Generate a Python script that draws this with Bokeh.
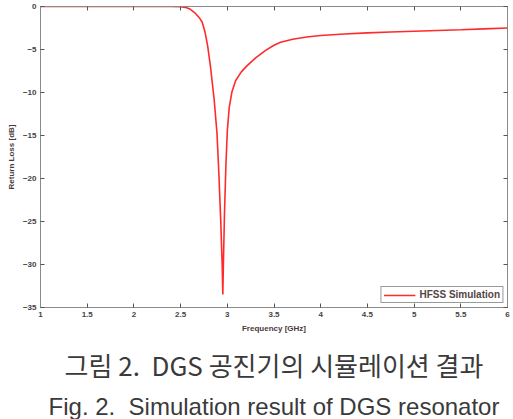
from bokeh.plotting import figure
from bokeh.models import LinearAxis, Range1d, FixedTicker, Legend, Title
from bokeh.embed import file_html
from bokeh.resources import INLINE

freq = [1.0, 1.5, 2.0, 2.4, 2.5, 2.55, 2.6, 2.65, 2.7, 2.73, 2.76, 2.79, 2.82, 2.86, 2.89,
        2.91, 2.93, 2.945, 2.952, 2.958, 2.97, 2.985, 3.0, 3.02, 3.05, 3.09, 3.15, 3.21,
        3.3, 3.41, 3.5, 3.57, 3.7, 3.85, 4.0, 4.25, 4.5, 4.75, 5.0, 5.25, 5.5, 5.75, 6.0]
rl = [0.0, 0.0, 0.0, 0.0, -0.02, -0.1, -0.3, -0.7, -1.3, -1.8, -2.9, -4.6, -7.0, -10.9, -14.8,
      -19.5, -25.0, -30.0, -33.5, -30.0, -24.0, -18.5, -14.5, -11.8, -9.9, -8.6, -7.6, -6.9,
      -6.0, -5.1, -4.5, -4.15, -3.8, -3.55, -3.38, -3.2, -3.07, -2.97, -2.88, -2.79, -2.7, -2.6, -2.5]

x_ticks = [1, 1.5, 2, 2.5, 3, 3.5, 4, 4.5, 5, 5.5, 6]
y_ticks = [0, -5, -10, -15, -20, -25, -30, -35]
series_name = "HFSS Simulation"
x_label = "Frequency [GHz]"
y_label = "Return Loss [dB]"
caption_kr = "그림 2.\u00a0\u00a0DGS 공진기의 시뮬레이션 결과"
caption_en = "Fig. 2.\u00a0\u00a0Simulation result of DGS resonator"

p = figure(width=513, height=419, output_backend="svg", toolbar_location=None,
           x_range=Range1d(1, 6), y_range=Range1d(-35, 0),
           min_border_left=40, min_border_right=6, min_border_top=6, min_border_bottom=0,
           x_axis_location=None, y_axis_location=None)
p.grid.visible = False
p.outline_line_color = "#8a8a8a"
p.background_fill_color = "white"
p.border_fill_color = "white"

def mk_axis(show_labels, label=None):
    ax = LinearAxis()
    ax.ticker = FixedTicker(ticks=x_ticks)
    ax.major_tick_in = 4
    ax.major_tick_out = 0
    ax.minor_tick_in = 0
    ax.minor_tick_out = 0
    ax.axis_line_color = "#8a8a8a"
    ax.major_tick_line_color = "#555555"
    ax.major_label_text_font = "Liberation Sans"
    ax.major_label_text_font_style = "bold"
    ax.major_label_text_font_size = "8px"
    ax.major_label_text_color = "#444444"
    if not show_labels:
        ax.major_label_text_font_size = "0px"
        ax.major_label_text_color = None
        ax.major_label_standoff = 0
    else:
        ax.major_label_standoff = 4
    if label:
        ax.axis_label = label
        ax.axis_label_text_font = "Liberation Sans"
        ax.axis_label_text_font_style = "bold"
        ax.axis_label_text_font_size = "8px"
        ax.axis_label_text_color = "#4a3a3a"
        ax.axis_label_standoff = 4
    return ax

xb = mk_axis(True, x_label)
xt = mk_axis(False)
yl = mk_axis(True, y_label)
yl.ticker = FixedTicker(ticks=y_ticks)
yr = mk_axis(False)
yr.ticker = FixedTicker(ticks=y_ticks)
p.add_layout(xb, "below")
p.add_layout(xt, "above")
p.add_layout(yl, "left")
p.add_layout(yr, "right")

r = p.line(freq, rl, line_color="#ff2a2a", line_width=1.6)

legend = Legend(items=[(series_name, [r])], location="bottom_right")
legend.label_text_font = "Liberation Sans"
legend.label_text_font_style = "bold"
legend.label_text_font_size = "10px"
legend.label_text_color = "#554444"
legend.border_line_color = "#333333"
legend.border_line_width = 1
legend.glyph_width = 32
legend.glyph_height = 10
legend.label_height = 10
legend.padding = 2
legend.spacing = 0
legend.margin = 4
legend.label_standoff = 4
p.add_layout(legend, "center")

t1 = Title(text=caption_kr, align="center", text_font="Noto Sans CJK KR",
           text_font_size="26px", text_font_style="normal", text_color="#3a3a3a",
           standoff=16, offset=0)
t2 = Title(text=caption_en, align="center", text_font="Liberation Sans",
           text_font_size="24px", text_font_style="normal", text_color="#3a3a3a",
           standoff=0, offset=0)
p.add_layout(t1, "below")
p.add_layout(t2, "below")

open("out.html", "w").write(file_html(p, INLINE))
